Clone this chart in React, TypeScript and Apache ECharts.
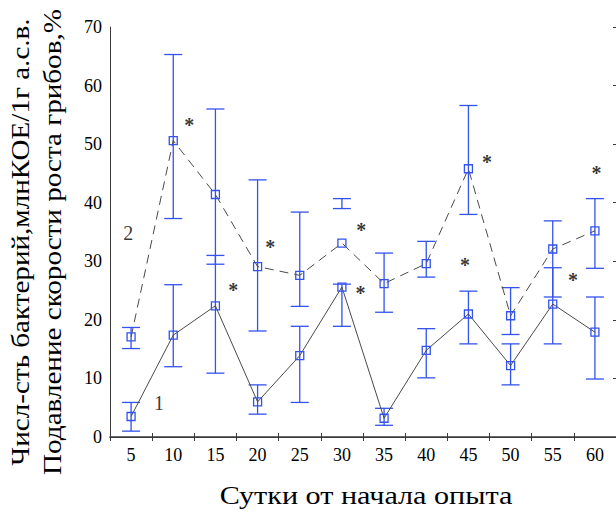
import React, { useEffect, useRef } from "react";
import * as echarts from "echarts";

const days = ["5", "10", "15", "20", "25", "30", "35", "40", "45", "50", "55", "60"];

// Curve 1 — bacteria count
const bacteria = [3.5, 17.4, 22.4, 6.0, 13.9, 25.6, 3.2, 14.8, 21.0, 12.2, 22.7, 17.9];
const bacteriaLow = [1.0, 12.0, 10.9, 3.9, 5.9, 18.9, 2.0, 10.1, 15.9, 8.9, 15.9, 9.9];
const bacteriaHigh = [5.9, 26.0, 31.0, 8.9, 18.9, 26.1, 4.9, 18.5, 24.9, 15.9, 28.9, 23.9];

// Curve 2 — fungal growth suppression
const suppression = [17.1, 50.6, 41.4, 29.1, 27.6, 33.1, 26.2, 29.6, 45.8, 20.7, 32.1, 35.2];
const suppressionLow = [15.1, 37.3, 29.5, 18.1, 22.3, 39.0, 21.3, 27.3, 38.0, 17.5, 23.9, 28.8];
const suppressionHigh = [18.7, 65.3, 56.0, 43.9, 38.4, 40.7, 31.4, 33.4, 56.6, 25.5, 36.9, 40.7];

// Significance asterisks (day, value)
const starDay = [11.9, 17.1, 21.5, 32.3, 32.2, 44.6, 47.2, 57.4, 60.2];
const starValue = [53.8, 25.6, 33.0, 35.9, 25.1, 29.9, 47.5, 27.3, 45.6];

// Curve number labels
const curveLabels = ["1", "2"];
const curveLabelDay = [8.3, 4.65];
const curveLabelValue = [5.8, 34.9];

const yTicks = [0, 10, 20, 30, 40, 50, 60, 70];

const BLUE = "#3352ee";
const LINE = "#4a4a4a";
const AXIS = "#3a3a3a";
const SERIF = "Liberation Serif";

export default function App() {
  const ref = useRef<HTMLDivElement>(null);

  useEffect(() => {
    if (!ref.current) return;
    const chart = echarts.init(ref.current, null, { renderer: "svg" });

    const errorRender = (params: any, api: any) => {
      const x = api.value(0);
      const lo = api.coord([x, api.value(1)]);
      const hi = api.coord([x, api.value(2)]);
      const hw = 9;
      const style = { stroke: BLUE, lineWidth: 1.3 };
      return {
        type: "group",
        children: [
          { type: "line", shape: { x1: lo[0], y1: lo[1], x2: hi[0], y2: hi[1] }, style },
          { type: "line", shape: { x1: lo[0] - hw, y1: lo[1], x2: lo[0] + hw, y2: lo[1] }, style },
          { type: "line", shape: { x1: hi[0] - hw, y1: hi[1], x2: hi[0] + hw, y2: hi[1] }, style },
        ],
      };
    };

    const yMin = yTicks[0];
    const yMax = yTicks[yTicks.length - 1];

    chart.setOption({
      animation: false,
      backgroundColor: "#ffffff",
      textStyle: { fontFamily: SERIF },
      grid: { left: 110, top: 27, width: 507, height: 410, containLabel: false },
      xAxis: [
        {
          type: "category",
          data: days,
          position: "bottom",
          boundaryGap: true,
          axisLine: { show: true, lineStyle: { color: AXIS, width: 1 } },
          axisTick: { show: true, inside: true, length: 4, lineStyle: { color: AXIS } },
          axisLabel: { color: "#000", fontFamily: SERIF, fontSize: 18, margin: 9 },
          splitLine: { show: false },
        },
        {
          type: "category",
          data: days,
          position: "top",
          boundaryGap: true,
          axisLine: { show: true, lineStyle: { color: AXIS, width: 1.5 } },
          axisTick: { show: true, inside: true, length: 4, lineStyle: { color: AXIS } },
          axisLabel: { show: false },
          splitLine: { show: false },
        },
        {
          type: "value",
          min: 2.5,
          max: 62.5,
          show: false,
        },
      ],
      yAxis: [
        {
          type: "value",
          min: yMin,
          max: yMax,
          interval: 10,
          position: "left",
          axisLine: { show: true, lineStyle: { color: AXIS, width: 1 } },
          axisTick: { show: false },
          axisLabel: { color: "#000", fontFamily: SERIF, fontSize: 18, margin: 8 },
          splitLine: { show: false },
        },
        {
          type: "value",
          min: yMin,
          max: yMax,
          interval: 10,
          position: "right",
          axisLine: { show: true, lineStyle: { color: AXIS, width: 1 } },
          axisTick: { show: true, inside: true, length: 3, lineStyle: { color: AXIS } },
          axisLabel: { show: false },
          splitLine: { show: false },
        },
      ],
      graphic: [
        {
          type: "text",
          x: 20,
          y: 242,
          rotation: Math.PI / 2,
          scaleX: 1.12,
          style: {
            text: "Числ-сть бактерий,млнКОЕ/1г а.с.в.",
            fontFamily: SERIF,
            fontSize: 26,
            fill: "#000",
            align: "center",
            verticalAlign: "middle",
          },
        },
        {
          type: "text",
          x: 52,
          y: 242,
          rotation: Math.PI / 2,
          scaleX: 1.12,
          style: {
            text: "Подавление скорости роста грибов,%",
            fontFamily: SERIF,
            fontSize: 26,
            fill: "#000",
            align: "center",
            verticalAlign: "middle",
          },
        },
        {
          type: "text",
          x: 366,
          y: 495,
          scaleX: 1.16,
          style: {
            text: "Сутки от начала опыта",
            fontFamily: SERIF,
            fontSize: 26,
            fill: "#000",
            align: "center",
            verticalAlign: "middle",
          },
        },
      ],
      series: [
        {
          type: "custom",
          name: "err1",
          xAxisIndex: 0,
          yAxisIndex: 0,
          renderItem: errorRender,
          data: days.map((_, i) => [i, bacteriaLow[i], bacteriaHigh[i]]),
          encode: { x: 0, y: [1, 2] },
          z: 2,
        },
        {
          type: "custom",
          name: "err2",
          xAxisIndex: 0,
          yAxisIndex: 0,
          renderItem: errorRender,
          data: days.map((_, i) => [i, suppressionLow[i], suppressionHigh[i]]),
          encode: { x: 0, y: [1, 2] },
          z: 2,
        },
        {
          type: "line",
          name: "1",
          xAxisIndex: 0,
          yAxisIndex: 0,
          data: bacteria,
          symbol: "rect",
          symbolSize: 8,
          showAllSymbol: true,
          lineStyle: { color: LINE, width: 1, type: "solid" },
          itemStyle: { color: "rgba(0,0,0,0)", borderColor: BLUE, borderWidth: 1.3 },
          z: 3,
        },
        {
          type: "line",
          name: "2",
          xAxisIndex: 0,
          yAxisIndex: 0,
          data: suppression,
          symbol: "rect",
          symbolSize: 8,
          showAllSymbol: true,
          lineStyle: { color: LINE, width: 1, type: [9, 6] },
          itemStyle: { color: "rgba(0,0,0,0)", borderColor: BLUE, borderWidth: 1.3 },
          z: 3,
        },
        {
          type: "scatter",
          name: "stars",
          xAxisIndex: 2,
          yAxisIndex: 0,
          data: starDay.map((d, i) => [d, starValue[i]]),
          symbolSize: 1,
          itemStyle: { color: "rgba(0,0,0,0)" },
          label: {
            show: true,
            position: "inside",
            formatter: "*",
            color: "#000",
            fontFamily: SERIF,
            fontSize: 20,
            fontWeight: "bold",
            offset: [0, 3],
          },
          z: 4,
        },
        {
          type: "scatter",
          name: "curve labels",
          xAxisIndex: 2,
          yAxisIndex: 0,
          data: curveLabels.map((t, i) => ({ value: [curveLabelDay[i], curveLabelValue[i]], name: t })),
          symbolSize: 1,
          itemStyle: { color: "rgba(0,0,0,0)" },
          label: {
            show: true,
            position: "inside",
            formatter: "{b}",
            color: "#000",
            fontFamily: SERIF,
            fontSize: 20,
          },
          z: 4,
        },
      ],
    });

    return () => chart.dispose();
  }, []);

  return <div ref={ref} style={{ position: "fixed", left: 0, top: 0, width: 616, height: 512 }} />;
}
